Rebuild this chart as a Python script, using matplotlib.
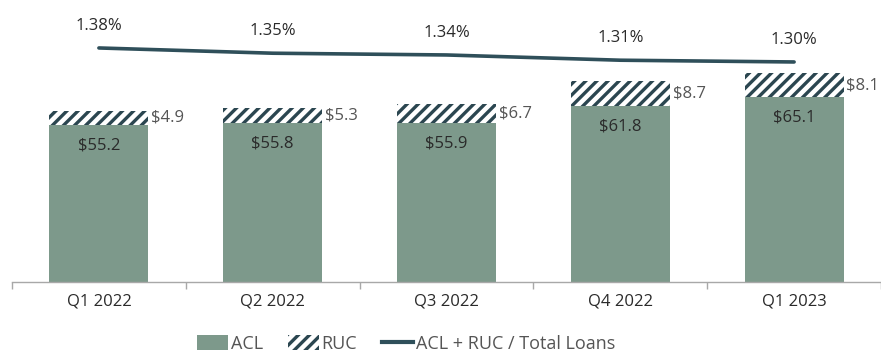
import matplotlib
matplotlib.use("Agg")
import matplotlib.pyplot as plt
from matplotlib.patches import Patch
from matplotlib.lines import Line2D

quarters = ["Q1 2022", "Q2 2022", "Q3 2022", "Q4 2022", "Q1 2023"]
acl = [55.2, 55.8, 55.9, 61.8, 65.1]
ruc = [4.9, 5.3, 6.7, 8.7, 8.1]
ratio = [1.38, 1.35, 1.34, 1.31, 1.30]

ACL_COLOR = "#7d998b"
HATCH_COLOR = "#2b4650"
LINE_COLOR = "#2f4f5a"
TEXT_DARK = "#2a2a2a"
TEXT_GRAY = "#555555"
FONT = ["Open Sans", "DejaVu Sans"]

plt.rcParams["font.family"] = FONT
plt.rcParams["hatch.linewidth"] = 2.4
plt.rcParams["hatch.color"] = HATCH_COLOR

W, H = 881, 358
fig = plt.figure(figsize=(W / 100, H / 100), dpi=100)
ax = fig.add_axes([12 / W, 76 / H, (W - 12) / W, 282 / H])

x = list(range(len(quarters)))
bw = 0.57

ax.bar(x, acl, width=bw, color=ACL_COLOR, edgecolor="none", zorder=2)
ax.bar(x, ruc, width=bw, bottom=acl, facecolor="white", edgecolor=HATCH_COLOR,
       hatch="///", linewidth=0, zorder=2)

for i in x:
    ax.annotate(f"${acl[i]:.1f}", (i, acl[i]), xytext=(0, -15), textcoords="offset points",
                ha="center", va="center", fontsize=12, color=TEXT_DARK)
    ax.annotate(f"${ruc[i]:.1f}", (i + bw / 2, acl[i] + ruc[i] / 2), xytext=(2, 0),
                textcoords="offset points", ha="left", va="center", fontsize=12,
                color=TEXT_GRAY)

ax.set_xlim(-0.5, len(quarters) - 0.5)
ax.set_ylim(0, 99)
ax.set_yticks([])
for s in ["top", "right", "left"]:
    ax.spines[s].set_visible(False)
ax.spines["bottom"].set_color("#a8a8a8")
ax.spines["bottom"].set_linewidth(1.0)

ax.set_xticks(x)
ax.set_xticklabels(quarters, fontsize=12, color=TEXT_DARK)
ax.tick_params(axis="x", which="major", length=0, pad=8)
ax.set_xticks([i - 0.5 for i in range(len(quarters) + 1)], minor=True)
ax.tick_params(axis="x", which="minor", length=5, color="#a8a8a8", width=1.0)

ax2 = ax.twinx()
ax2.plot(x, ratio, color=LINE_COLOR, linewidth=2.6, solid_capstyle="round", zorder=3)
for i in x:
    ax2.annotate(f"{ratio[i]:.2f}%", (i, ratio[i]), xytext=(0, 16), textcoords="offset points",
                 ha="center", va="center", fontsize=12, color=TEXT_DARK)
ax2.set_ylim(0.043, 1.654)
ax2.set_yticks([])
for s in ax2.spines.values():
    s.set_visible(False)

handles = [
    Patch(facecolor=ACL_COLOR, edgecolor="none", label="ACL"),
    Patch(facecolor="white", edgecolor=HATCH_COLOR, hatch="///", linewidth=0, label="RUC"),
    Line2D([0], [0], color=LINE_COLOR, linewidth=3, label="ACL + RUC / Total Loans"),
]
fig.legend(handles=handles, loc="center", bbox_to_anchor=(406 / W, 1 - 344 / H), ncol=3,
           frameon=False, fontsize=13, handlelength=1.7, handleheight=0.9,
           handletextpad=0.15, columnspacing=1.4, labelcolor=TEXT_GRAY)

fig.savefig("out.png", dpi=100)
